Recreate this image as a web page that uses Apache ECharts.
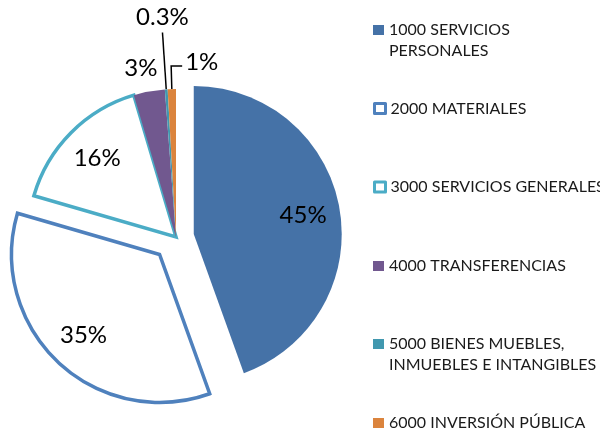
<!DOCTYPE html>
<html>
<head>
<meta charset="utf-8">
<script src="https://cdn.jsdelivr.net/npm/echarts@6/dist/echarts.min.js"></script>
<style>
  html, body { margin: 0; padding: 0; background: #fff; }
  #chart { width: 600px; height: 432px; }
</style>
</head>
<body>
<div id="chart"></div>
<script>
// Budget share by chapter of spending
const categories = [
  '1000 SERVICIOS\nPERSONALES',
  '2000 MATERIALES',
  '3000 SERVICIOS GENERALES',
  '4000 TRANSFERENCIAS',
  '5000 BIENES MUEBLES,\nINMUEBLES E INTANGIBLES',
  '6000 INVERSIÓN PÚBLICA'
];
const shares = [44.5, 35.0, 15.9, 3.4, 0.3, 0.9];
const shareLabels = ['45%', '35%', '16%', '3%', '0.3%', '1%'];

// styling
const FONT = 'Lato';
const CENTER = [176, 237];
const RADIUS = 148;
const CLEAR = { color: 'rgba(0,0,0,0)', borderWidth: 0 };
const sliceStyles = [
  { color: '#4572A7', borderWidth: 0 },
  { color: '#FFFFFF', borderColor: '#4F81BD', borderWidth: 3.5, borderJoin: 'miter' },
  { color: '#FFFFFF', borderColor: '#4BACC6', borderWidth: 3.5, borderJoin: 'miter' },
  { color: '#71588F', borderWidth: 0 },
  { color: '#4198AF', borderWidth: 0 },
  { color: '#DB843D', borderWidth: 0 }
];
// selectedOffset is per series, so slices exploded by different amounts
// are split into groups that each get their own series
const groups = [
  { offset: 18, members: [0] },
  { offset: 24, members: [1, 2, 3, 4, 5] }
];
const exploded = [0, 1];
const legendIconY = [30, 108.5, 187, 266, 344, 423];

const chart = echarts.init(document.getElementById('chart'));

function sliceSeries(group) {
  return {
    type: 'pie',
    center: CENTER,
    radius: [0, RADIUS],
    startAngle: 90,
    clockwise: true,
    selectedMode: 'multiple',
    selectedOffset: group.offset,
    avoidLabelOverlap: false,
    label: { show: false },
    labelLine: { show: false },
    emphasis: { disabled: true },
    data: categories.map((name, i) => {
      const own = group.members.indexOf(i) >= 0;
      const style = own ? sliceStyles[i] : CLEAR;
      return {
        name: name,
        value: shares[i],
        selected: own && exploded.indexOf(i) >= 0,
        itemStyle: style,
        select: { itemStyle: style }
      };
    })
  };
}

function labelSeries(group) {
  return {
    type: 'pie',
    center: CENTER,
    radius: [RADIUS * 0.46, RADIUS],
    startAngle: 90,
    clockwise: true,
    selectedMode: 'multiple',
    selectedOffset: group.offset,
    avoidLabelOverlap: false,
    silent: true,
    itemStyle: CLEAR,
    select: { itemStyle: CLEAR },
    emphasis: { disabled: true },
    label: {
      show: true,
      fontFamily: FONT,
      fontSize: 24,
      color: '#000',
      formatter: (p) => shareLabels[p.dataIndex]
    },
    labelLine: { lineStyle: { color: '#000', width: 1.5 } },
    labelLayout: function (p) {
      const r = p.labelRect;
      const pts = p.labelLinePoints;
      if (p.dataIndex === 3) {
        return { dx: r.width / 2 + 1 };
      }
      if (p.dataIndex === 4 && pts) {
        const end = pts[pts.length - 1];
        return {
          dx: end[0] - (r.x + r.width / 2),
          dy: end[1] - 3 - (r.y + r.height),
          labelLinePoints: pts
        };
      }
      if (p.dataIndex === 5 && pts) {
        const a = pts[0];
        const b = pts[1];
        const c = [b[0] + 11, b[1]];
        return {
          dx: c[0] + 3 - r.x,
          dy: c[1] - 4 - (r.y + r.height / 2),
          labelLinePoints: [a, b, c]
        };
      }
    },
    data: categories.map((name, i) => {
      const own = group.members.indexOf(i) >= 0;
      const item = {
        name: name,
        value: shares[i],
        selected: own && exploded.indexOf(i) >= 0,
        label: { show: own, position: 'inside' },
        labelLine: { show: false }
      };
      if (i === 3) {
        item.label.position = 'outside';
        item.labelLine = { show: false, length: 24, length2: 0 };
      } else if (i === 4) {
        item.label.position = 'outside';
        item.labelLine = { show: own, length: 57, length2: 0 };
      } else if (i === 5) {
        item.label.position = 'outside';
        item.labelLine = { show: own, length: 23, length2: 0 };
      }
      return item;
    })
  };
}

const legends = categories.map((name, i) => {
  const twoLines = name.indexOf('\n') >= 0;
  const s = sliceStyles[i];
  const hollow = s.color === '#FFFFFF';
  return {
    orient: 'vertical',
    left: 373,
    top: legendIconY[i] - (twoLines ? 31.5 : 10.5),
    padding: 0,
    icon: 'rect',
    itemWidth: 11,
    itemHeight: 10,
    selectedMode: false,
    // an empty first line keeps the icon level with the first line of text
    formatter: (n) => (twoLines ? '\n' + n : n),
    data: [{
      name: name,
      itemStyle: {
        color: s.color,
        borderColor: s.borderColor || s.color,
        borderWidth: hollow ? 3 : 0
      }
    }],
    textStyle: {
      fontFamily: FONT,
      fontSize: 16,
      color: '#1a1a1a',
      lineHeight: 21
    }
  };
});

const option = {
  animation: false,
  legend: legends,
  series: groups.map(sliceSeries).concat(groups.map(labelSeries))
};

chart.setOption(option);
</script>
</body>
</html>
